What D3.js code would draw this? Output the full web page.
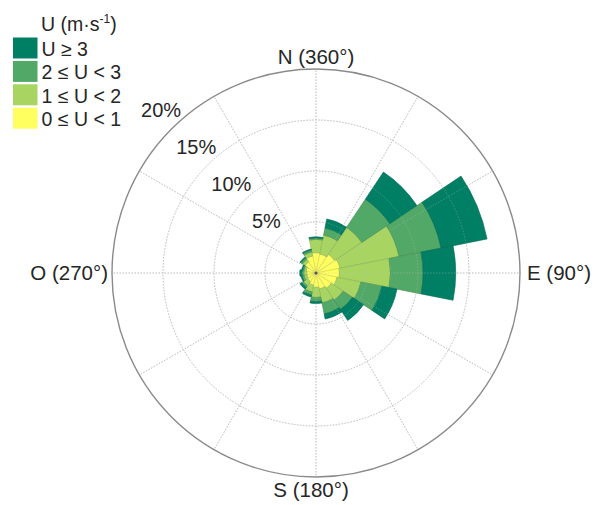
<!DOCTYPE html>
<html>
<head>
<meta charset="utf-8">
<script src="https://cdn.jsdelivr.net/npm/d3@7"></script>
<style>
body { margin: 0; background: #fff; }
text { font-family: "Liberation Sans", Arial, Helvetica, sans-serif; fill: #262626; }
</style>
</head>
<body>
<svg id="rose" width="595" height="505"></svg>
<script>
// 16 sectors, compass degrees
var directions = ["N","NNE","NE","ENE","E","ESE","SE","SSE","S","SSW","SW","WSW","W","WNW","NW","NNW"]
var dirAngles = [0,22.5,45,67.5,90,112.5,135,157.5,180,202.5,225,247.5,270,292.5,315,337.5]

// frequency (%) per speed class
var speed0to1 = [2.0,1.9,2.2,2.4,2.3,2.1,1.8,1.6,1.4,1.2,1.0,0.9,0.9,1.0,1.3,1.7]
var speed1to2 = [1.3,1.9,3.2,5.9,5.0,2.4,1.4,1.4,1.0,0.7,0.5,0.3,0.3,0.2,0.3,0.4]
var speed2to3 = [0.15,0.7,3.3,4.2,3.2,2.1,1.1,1.1,0.4,0.3,0.2,0.2,0.2,0.15,0.2,0.2]
var speed3up  = [0.1,0.9,3.2,4.6,3.2,1.5,1.3,0.5,0.2,0.2,0.2,0.1,0.2,0.1,0.1,0.1]

var classKeys = ["c0","c1","c2","c3"]
var classLabels = ["0 \u2264 U < 1","1 \u2264 U < 2","2 \u2264 U < 3","U \u2265 3"]
var classColors = ["#ffff60","#a8d462","#52a866","#007f64"]

var ringTicks = [5,10,15,20]
var ringLabels = ["5%","10%","15%","20%"]
var spokeAngles = [0,30,60,90,120,150,180,210,240,270,300,330]
var axisLabels = ["N (360\u00b0)","E (90\u00b0)","S (180\u00b0)","O (270\u00b0)"]

var svg = d3.select("#rose")
var cx = 316, cy = 273
var rMax = 204

var rScale = d3.scaleLinear().domain([0, 20]).range([0, rMax])

// table for stacking
var table = directions.map(function(d, i) {
	return { dir: d, angle: dirAngles[i], c0: speed0to1[i], c1: speed1to2[i], c2: speed2to3[i], c3: speed3up[i] }
})
var series = d3.stack().keys(classKeys)(table)

var g = svg.append("g").attr("transform", "translate(" + cx + "," + cy + ")")

// grid (rings + spokes)
function drawGrid(parent, op) {
	var grid = parent.append("g").attr("opacity", op)
	grid.selectAll("circle.ring")
		.data(ringTicks.slice(0, 3))
		.enter().append("circle")
		.attr("r", function(d) { return rScale(d) })
		.attr("fill", "none")
		.attr("stroke", "#c4c4c4")
		.attr("stroke-width", 1)
		.attr("stroke-dasharray", "1.5,1.5")
	grid.selectAll("line.spoke")
		.data(spokeAngles)
		.enter().append("line")
		.attr("x1", 0).attr("y1", 0)
		.attr("x2", function(d) { return rMax * Math.sin(d * Math.PI / 180) })
		.attr("y2", function(d) { return -rMax * Math.cos(d * Math.PI / 180) })
		.attr("stroke", "#c4c4c4")
		.attr("stroke-width", 1)
		.attr("stroke-dasharray", "1.5,1.5")
}
drawGrid(g, 1)

// bars
var half = 11.25 * Math.PI / 180
var arc = d3.arc()
	.innerRadius(function(d) { return rScale(d[0]) })
	.outerRadius(function(d) { return rScale(d[1]) })
	.startAngle(function(d) { return d.data.angle * Math.PI / 180 - half })
	.endAngle(function(d) { return d.data.angle * Math.PI / 180 + half })

g.selectAll("g.layer")
	.data(series)
	.enter().append("g")
	.attr("class", "layer")
	.attr("fill", function(d, i) { return classColors[i] })
	.attr("stroke", function(d, i) { return d3.color(classColors[i]).darker(0.5) })
	.attr("stroke-width", 0.6)
	.selectAll("path")
	.data(function(d) { return d })
	.enter().append("path")
	.attr("d", arc)

// faint grid over bars
drawGrid(g, 0.35)

g.append("circle").attr("r", 1.6).attr("fill", "#555")

// outer circle
g.append("circle")
	.attr("r", rScale(20))
	.attr("fill", "none")
	.attr("stroke", "#8a8a8a")
	.attr("stroke-width", 1.4)

// percent labels
var labAng = 133.5 * Math.PI / 180
g.selectAll("text.pct")
	.data(ringTicks)
	.enter().append("text")
	.attr("x", function(d) { return (rScale(d) + 21) * Math.cos(labAng) })
	.attr("y", function(d) { return -(rScale(d) + 21) * Math.sin(labAng) })
	.attr("text-anchor", "middle")
	.attr("dominant-baseline", "central")
	.style("font-size", "20px")
	.text(function(d, i) { return ringLabels[i] })

// compass labels
svg.append("text").attr("x", cx).attr("y", 64).attr("text-anchor", "middle")
	.style("font-size", "20.5px").text(axisLabels[0])
svg.append("text").attr("x", 527).attr("y", 280).attr("text-anchor", "start")
	.style("font-size", "20.5px").text(axisLabels[1])
svg.append("text").attr("x", cx - 5).attr("y", 497).attr("text-anchor", "middle")
	.style("font-size", "20.5px").text(axisLabels[2])
svg.append("text").attr("x", 108).attr("y", 280).attr("text-anchor", "end")
	.style("font-size", "20.5px").text(axisLabels[3])

// legend
var legend = svg.append("g")
var title = legend.append("text").attr("x", 41).attr("y", 31).style("font-size", "19.5px")
title.append("tspan").text("U (m\u00b7s")
title.append("tspan").attr("dy", -8).style("font-size", "12px").text("-1")
title.append("tspan").attr("dy", 8).text(")")

var legendOrder = [3, 2, 1, 0]
var items = legend.selectAll("g.item")
	.data(legendOrder)
	.enter().append("g")
	.attr("transform", function(d, i) { return "translate(13," + (37.5 + i * 23.4) + ")" })
items.append("rect")
	.attr("width", 24.5).attr("height", 21)
	.attr("fill", function(d) { return classColors[d] })
items.append("text")
	.attr("x", 28.5).attr("y", 18.5)
	.style("font-size", "19.5px")
	.text(function(d) { return classLabels[d] })
</script>
</body>
</html>
